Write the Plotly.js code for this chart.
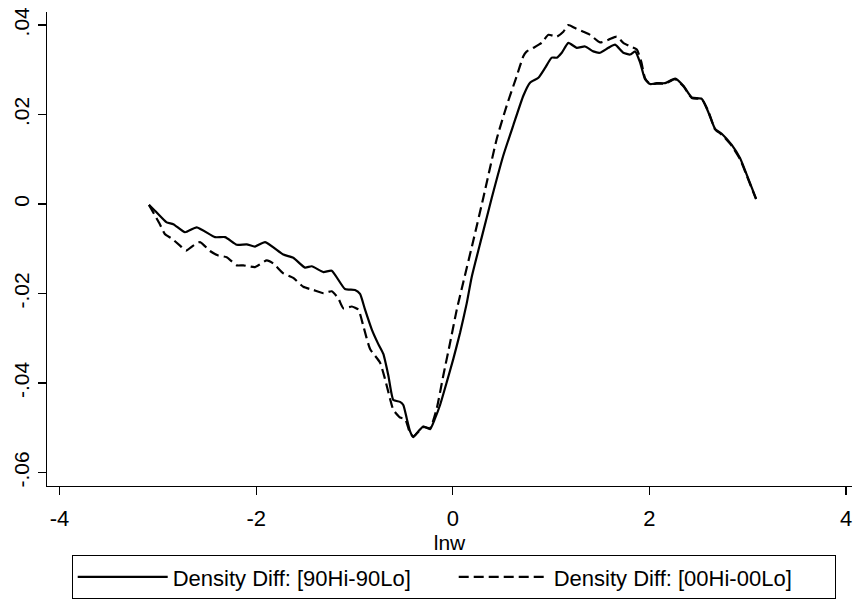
<!DOCTYPE html>
<html>
<head>
<meta charset="utf-8">
<script src="https://cdn.plot.ly/plotly-3.0.1.min.js"></script>
<style>html,body{margin:0;padding:0;background:#fff;}#chart{width:855px;height:602px;}</style>
</head>
<body>
<div id="chart"></div>
<script>
// Density Diff: [90Hi-90Lo]  (solid)
var x90 = [-3.091,-3.030,-2.911,-2.843,-2.724,-2.605,-2.419,-2.317,-2.198,-2.097,-2.012,-1.910,-1.724,-1.623,-1.504,-1.435,-1.317,-1.232,-1.097,-0.995,-0.944,-0.893,-0.825,-0.758,-0.707,-0.656,-0.605,-0.537,-0.504,-0.469,-0.435,-0.402,-0.351,-0.300,-0.232,-0.181,-0.130,-0.062,0.005,0.073,0.141,0.192,0.294,0.396,0.514,0.615,0.717,0.785,0.870,0.938,1.006,1.057,1.108,1.175,1.260,1.345,1.429,1.497,1.582,1.650,1.734,1.803,1.854,1.905,1.955,2.006,2.074,2.159,2.261,2.345,2.430,2.532,2.599,2.667,2.735,2.837,2.922,2.990,3.084];
var y90 = [-0.0002,-0.0015,-0.0041,-0.0045,-0.0063,-0.0052,-0.0074,-0.0074,-0.0091,-0.0090,-0.0095,-0.0085,-0.0113,-0.0120,-0.0142,-0.0139,-0.0152,-0.0149,-0.0190,-0.0192,-0.0201,-0.0236,-0.0280,-0.0313,-0.0335,-0.0383,-0.0438,-0.0442,-0.0449,-0.0479,-0.0508,-0.0521,-0.0508,-0.0497,-0.0503,-0.0479,-0.0449,-0.0398,-0.0346,-0.0288,-0.0222,-0.0163,-0.0074,0.0014,0.0109,0.0176,0.0242,0.0271,0.0282,0.0304,0.0327,0.0327,0.0338,0.0360,0.0349,0.0352,0.0341,0.0338,0.0349,0.0356,0.0338,0.0334,0.0341,0.0316,0.0279,0.0268,0.0270,0.0270,0.0280,0.0264,0.0238,0.0235,0.0205,0.0168,0.0157,0.0132,0.0102,0.0065,0.0012];

// Density Diff: [00Hi-00Lo]  (dashed)
var x00 = [-3.091,-2.980,-2.930,-2.860,-2.775,-2.714,-2.640,-2.572,-2.470,-2.386,-2.300,-2.198,-2.131,-2.012,-1.893,-1.826,-1.724,-1.623,-1.521,-1.419,-1.317,-1.232,-1.165,-1.114,-1.028,-0.961,-0.910,-0.842,-0.741,-0.690,-0.639,-0.605,-0.537,-0.486,-0.435,-0.402,-0.351,-0.300,-0.232,-0.164,-0.097,-0.028,0.040,0.107,0.209,0.310,0.447,0.548,0.650,0.717,0.752,0.819,0.904,0.972,1.057,1.124,1.175,1.243,1.328,1.396,1.497,1.582,1.667,1.734,1.803,1.871,1.916,1.955,2.006,2.074,2.159,2.261,2.345,2.430,2.532,2.599,2.667,2.735,2.837,2.922,2.990,3.084];
var y00 = [-0.0002,-0.0045,-0.0067,-0.0077,-0.0093,-0.0104,-0.0093,-0.0085,-0.0105,-0.0115,-0.0119,-0.0137,-0.0137,-0.0141,-0.0126,-0.0133,-0.0155,-0.0165,-0.0185,-0.0192,-0.0199,-0.0195,-0.0211,-0.0233,-0.0229,-0.0236,-0.0273,-0.0324,-0.0354,-0.0391,-0.0435,-0.0460,-0.0477,-0.0480,-0.0512,-0.0519,-0.0509,-0.0498,-0.0501,-0.0457,-0.0383,-0.0310,-0.0236,-0.0174,-0.0081,0.0014,0.0146,0.0220,0.0286,0.0330,0.0341,0.0349,0.0360,0.0378,0.0374,0.0385,0.0400,0.0393,0.0385,0.0378,0.0361,0.0367,0.0374,0.0360,0.0352,0.0345,0.0318,0.0281,0.0268,0.0269,0.0269,0.0279,0.0263,0.0237,0.0234,0.0207,0.0167,0.0155,0.0130,0.0100,0.0063,0.0011];

var names = ['Density Diff: [90Hi-90Lo]', 'Density Diff: [00Hi-00Lo]'];
var xTickVals = [-4, -2, 0, 2, 4];
var xTickText = ['-4', '-2', '0', '2', '4'];
var yTickVals = [0.04, 0.02, 0, -0.02, -0.04, -0.06];
var yTickText = ['.04', '.02', '0', '-.02', '-.04', '-.06'];

var FONT = 'Liberation Sans, Arial, Helvetica, sans-serif';

var traces = [
  {x: x90, y: y90, name: names[0], type: 'scatter', mode: 'lines',
   line: {color: '#000', width: 2.2, dash: 'solid', shape: 'spline', smoothing: 0.5}},
  {x: x00, y: y00, name: names[1], type: 'scatter', mode: 'lines',
   line: {color: '#000', width: 2.2, dash: '10px,5px', shape: 'spline', smoothing: 0.5}}
];

var layout = {
  width: 855, height: 602,
  margin: {l: 47, r: 3, t: 12, b: 110, pad: 0},
  paper_bgcolor: '#fff', plot_bgcolor: '#fff',
  font: {family: FONT, color: '#000', size: 21},
  showlegend: true,
  xaxis: {
    range: [-4.128, 4.06], showgrid: false, zeroline: false,
    showline: true, linecolor: '#000', linewidth: 1.3,
    ticks: 'outside', ticklen: 8, tickwidth: 1.3, tickcolor: '#000',
    tickmode: 'array', tickvals: xTickVals, ticktext: xTickText,
    tickfont: {size: 22}, ticklabelstandoff: 4,
    title: {text: 'lnw', font: {size: 21}, standoff: 2}
  },
  yaxis: {
    range: [-0.063, 0.0429], showgrid: false, zeroline: false,
    showline: true, linecolor: '#000', linewidth: 1.3,
    ticks: 'outside', ticklen: 8, tickwidth: 1.3, tickcolor: '#000',
    tickmode: 'array', tickvals: yTickVals, ticktext: yTickText,
    tickangle: -90, tickfont: {size: 21}, ticklabelstandoff: 0
  },
  legend: {
    orientation: 'h', x: 0.0307, xanchor: 'left', y: -0.1458, yanchor: 'top',
    bordercolor: '#000', borderwidth: 1, bgcolor: '#fff',
    font: {size: 22}, itemwidth: 90, traceorder: 'normal',
    entrywidth: 276, entrywidthmode: 'pixels'
  }
};

Plotly.newPlot('chart', traces, layout, {displayModeBar: false, staticPlot: true});
</script>
</body>
</html>
